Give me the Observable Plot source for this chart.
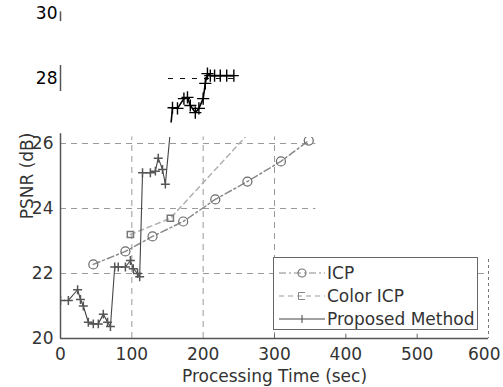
<!DOCTYPE html>
<html><head><meta charset="utf-8">
<script src="https://cdn.jsdelivr.net/npm/d3@7"></script>
<script src="https://cdn.jsdelivr.net/npm/@observablehq/plot@0.6"></script>
<style>
body{margin:0;background:#fff;}
#chart{position:relative;width:503px;height:387px;overflow:hidden;font-family:"DejaVu Sans",sans-serif;}
#chart svg.layer{position:absolute;left:0;top:0;}
.legend{position:absolute;left:273px;top:257px;width:205px;height:73px;box-sizing:border-box;border:1px solid #666;background:#fff;}
.legend .row{position:absolute;left:0;height:20px;display:flex;align-items:center;}
.legend .row svg{width:50px;height:16px;margin-left:3px;}
.legend .row span{margin-left:0px;font-size:17px;color:#333;line-height:20px;}
</style></head>
<body><div id="chart"></div>
<script>
// ---- data ----
const icpTime = [46, 91, 129, 172, 217, 262, 309, 348];
const icpPsnr = [22.28, 22.68, 23.14, 23.6, 24.28, 24.83, 25.45, 26.09];

const colorIcpTime = [98, 154, 270];
const colorIcpPsnr = [23.2, 23.7, 26.46];

const propTime = [0, 11, 24, 28, 32, 39, 46, 53, 60, 66, 70, 76, 81, 91, 98, 102, 108, 111, 115, 126, 133, 137, 143, 147,
  157, 164, 173, 178, 182, 189, 194, 200, 203, 206, 210, 216, 224, 233, 243];
const propPsnr = [21.17, 21.17, 21.5, 21.2, 21.0, 20.5, 20.45, 20.45, 20.75, 20.5, 20.37, 22.2, 22.2, 22.2, 22.4, 22.15, 22.0, 21.9, 25.1, 25.1, 25.15, 25.55, 25.2, 24.75,
  27.1, 27.08, 27.38, 27.42, 27.17, 26.95, 27.08, 27.38, 27.85, 28.15, 28.09, 28.09, 28.09, 28.09, 28.09];

const xTicks = [0, 100, 200, 300, 400, 500];
const xTickLast = [600];
const yTicksLow = [20, 22, 24, 26];
const yTicksHigh = [28, 30];
const xGrid = [100, 200, 300];
const yGrid = [22, 24, 26];
const yGridTop = [28];
const innerTicksX = [300, 400, 500];

// regions of the scanned page that are still visible (data units)
const visibleMain = [
  {x0: 0, x1: 358, y0: 19.5, y1: 26.2},
  {x0: 300, x1: 615, y0: 19.5, y1: 22.45}
];
const visibleFragment = [{x0: 150, x1: 250, y0: 26.65, y1: 28.4}];
const yAxisPieces = [{from: 20, to: 26.3}, {from: 27.6, to: 28.4}, {from: 29.75, to: 30.05}];

const icp = icpTime.map((t, i) => ({t, v: icpPsnr[i]}));
const colorIcp = colorIcpTime.map((t, i) => ({t, v: colorIcpPsnr[i]}));
const prop = propTime.map((t, i) => ({t, v: propPsnr[i]}));

const common = {
  width: 503, height: 387,
  marginLeft: 60, marginRight: 15, marginTop: 13, marginBottom: 49,
  x: {domain: [0, 600], axis: null},
  y: {domain: [20, 30], axis: null},
  style: {background: "transparent", fontFamily: "DejaVu Sans, sans-serif", fontSize: "17px", overflow: "visible"}
};

function clipLayer(svg, regions, id) {
  const sx = svg.scale("x"), sy = svg.scale("y");
  const ns = "http://www.w3.org/2000/svg";
  const defs = document.createElementNS(ns, "defs");
  const cp = document.createElementNS(ns, "clipPath");
  cp.setAttribute("id", id);
  for (const r of regions) {
    const a = sx.apply(r.x0), b = sx.apply(r.x1), c = sy.apply(r.y1), d = sy.apply(r.y0);
    const rect = document.createElementNS(ns, "rect");
    rect.setAttribute("x", a); rect.setAttribute("y", c);
    rect.setAttribute("width", b - a); rect.setAttribute("height", d - c);
    cp.appendChild(rect);
  }
  defs.appendChild(cp);
  const groups = svg.querySelectorAll(":scope > g");
  svg.insertBefore(defs, svg.firstChild);
  groups.forEach(g => g.setAttribute("clip-path", `url(#${id})`));
}

const chart = document.getElementById("chart");

// layer 1: grid + series in the lower (grey) part of the scan
const base = Plot.plot({
  ...common,
  marks: [
    Plot.ruleY(yGrid, {stroke: "#9a9a9a", strokeDasharray: "6,5"}),
    Plot.ruleX(xGrid, {stroke: "#9a9a9a", strokeDasharray: "6,5"}),
    Plot.ruleX([600], {stroke: "#777", strokeDasharray: "3,3"}),
    Plot.line(icp, {x: "t", y: "v", stroke: "#8a8a8a", strokeDasharray: "7,3,2,3"}),
    Plot.dot(icp, {x: "t", y: "v", r: 4.5, stroke: "#6a6a6a", fill: "none", strokeWidth: 1.2}),
    Plot.line(colorIcp, {x: "t", y: "v", stroke: "#b0b0b0", strokeDasharray: "5,4"}),
    Plot.dot(colorIcp, {x: "t", y: "v", symbol: "square", r: 3.5, stroke: "#777", fill: "none"}),
    Plot.line(prop, {x: "t", y: "v", stroke: "#444", strokeWidth: 1.1}),
    Plot.dot(prop, {x: "t", y: "v", symbol: "plus", r: 3, stroke: "#555"})
  ]
});
base.classList.add("layer");
clipLayer(base, visibleMain, "clipMain");
chart.appendChild(base);

// layer 2: the crisp black fragment near the top
const frag = Plot.plot({
  ...common,
  marks: [
    Plot.ruleY(yGridTop, {stroke: "#111", strokeDasharray: "5,7"}),
    Plot.line(prop, {x: "t", y: "v", stroke: "#000", strokeWidth: 1.6}),
    Plot.dot(prop, {x: "t", y: "v", symbol: "plus", r: 4, stroke: "#000", strokeWidth: 1.4})
  ]
});
frag.classList.add("layer");
clipLayer(frag, visibleFragment, "clipFrag");
chart.appendChild(frag);

// layer 3: axes
const axes = Plot.plot({
  ...common,
  marks: [
    Plot.ruleY([20], {stroke: "#555", strokeWidth: 1.5}),
    Plot.ruleX(yAxisPieces, {x: 0, y1: "from", y2: "to", stroke: "#555", strokeWidth: 1.5}),
    Plot.ruleX(innerTicksX, {y1: 20, y2: 20.13, stroke: "#666"}),
    Plot.axisY({ticks: yTicksLow, tickSize: 0, tickPadding: 7, fill: "#333",
      label: "PSNR (dB)", labelAnchor: "center", labelOffset: 40, labelArrow: "none"}),
    Plot.axisY({ticks: yTicksHigh, tickSize: 0, tickPadding: 3, fill: "#000", label: null}),
    Plot.axisX({ticks: xTicks, tickSize: 0, tickPadding: 9, fill: "#333",
      label: "Processing Time (sec)", labelAnchor: "center", labelOffset: 43, labelArrow: "none"}),
    Plot.axisX({ticks: xTickLast, tickSize: 0, tickPadding: 9, fill: "#333", label: null, textAnchor: "end", dx: 12})
  ]
});
axes.classList.add("layer");
chart.appendChild(axes);

// legend
const legendItems = [
  {name: "ICP", dash: "7,3,2,3", stroke: "#888", marker: "circle"},
  {name: "Color ICP", dash: "5,4", stroke: "#999", marker: "square"},
  {name: "Proposed Method", dash: null, stroke: "#444", marker: "plus"}
];
const legend = document.createElement("div");
legend.className = "legend";
legendItems.forEach((it, i) => {
  const row = document.createElement("div");
  row.className = "row";
  row.style.top = (5 + i * 23) + "px";
  let m = "";
  if (it.marker === "circle") m = `<circle cx="25" cy="8" r="4" fill="none" stroke="#777" stroke-width="1.2"/>`;
  if (it.marker === "square") m = `<path d="M28,4.5 H21.5 V11.5 H28" fill="none" stroke="#888"/>`;
  if (it.marker === "plus") m = `<path d="M25,4 V12" stroke="#444"/>`;
  row.innerHTML = `<svg viewBox="0 0 50 16"><line x1="2" y1="8" x2="48" y2="8" stroke="${it.stroke}" ${it.dash ? `stroke-dasharray="${it.dash}"` : ""}/>${m}</svg><span>${it.name}</span>`;
  legend.appendChild(row);
});
chart.appendChild(legend);
</script>
</body></html>
